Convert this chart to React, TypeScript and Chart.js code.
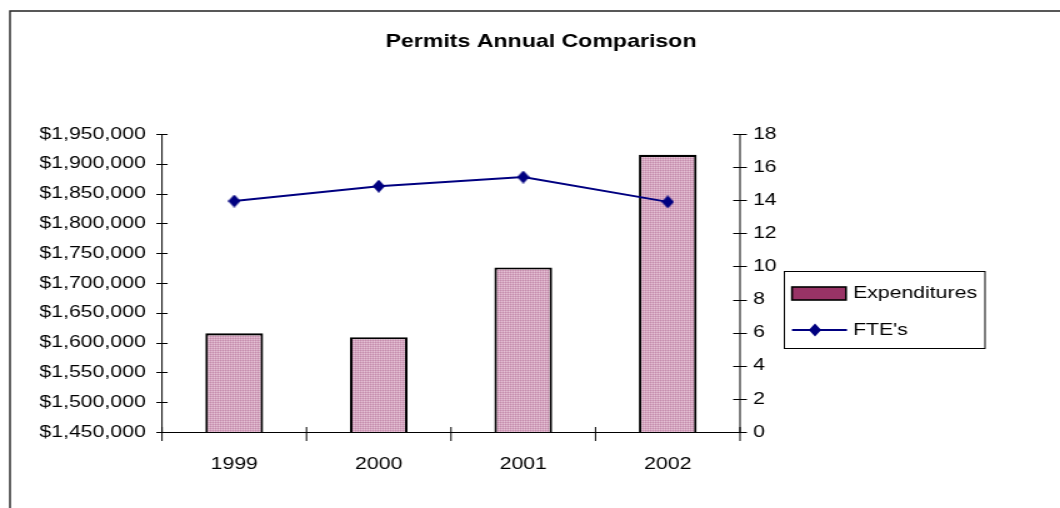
import React, { useEffect, useRef } from 'react';
import { Chart, registerables } from 'chart.js';

Chart.register(...registerables);

const categories = ['1999', '2000', '2001', '2002'];
const expenditures = [1615500, 1609000, 1726000, 1915000];
const ftes = [13.95, 14.85, 15.4, 13.9];
const leftMin = 1450000;
const leftMax = 1950000;
const leftStep = 50000;
const rightMin = 0;
const rightMax = 18;
const rightStep = 2;
const titleText = 'Permits Annual Comparison';
const seriesNames = ['Expenditures', "FTE's"];

const SX = 1.25;
const W = 848;
const H = 508;
const FONT = '"Liberation Sans", Arial, Helvetica, sans-serif';

export default function App() {
  const ref = useRef<HTMLCanvasElement>(null);

  useEffect(() => {
    const canvas = ref.current!;
    const tile = document.createElement('canvas');
    tile.width = 2;
    tile.height = 2;
    const tc = tile.getContext('2d')!;
    tc.fillStyle = '#D5A5C0';
    tc.fillRect(0, 0, 2, 2);
    tc.fillStyle = '#C48DAC';
    tc.fillRect(0, 0, 1, 1);
    tc.fillStyle = '#E4C2D4';
    tc.fillRect(1, 1, 1, 1);
    const pattern = tc.createPattern(tile, 'repeat')!;

    const dia = document.createElement('canvas');
    dia.width = 10;
    dia.height = 13;
    const dc = dia.getContext('2d')!;
    dc.fillStyle = '#000080';
    dc.beginPath();
    dc.moveTo(5, 0);
    dc.lineTo(10, 6.5);
    dc.lineTo(5, 13);
    dc.lineTo(0, 6.5);
    dc.closePath();
    dc.fill();

    const decor = {
      id: 'decor',
      afterDraw(chart: any) {
        const ctx = chart.ctx as CanvasRenderingContext2D;
        const { left, right, top, bottom } = chart.chartArea;
        const line = (x1: number, y1: number, x2: number, y2: number) => {
          ctx.beginPath();
          ctx.moveTo(x1, y1);
          ctx.lineTo(x2, y2);
          ctx.stroke();
        };
        ctx.save();
        ctx.strokeStyle = '#000';
        ctx.lineWidth = 1;
        line(left, top, left, bottom + 0.5);
        line(right, top, right, bottom + 0.5);
        line(left, bottom + 0.5, right, bottom + 0.5);
        const ys = chart.scales.y;
        ys.ticks.forEach((t: any) => {
          const py = Math.round(ys.getPixelForValue(t.value)) + 0.5;
          line(left - 4.5, py, left + 4.5, py);
        });
        const y1s = chart.scales.y1;
        y1s.ticks.forEach((t: any) => {
          const py = Math.round(y1s.getPixelForValue(t.value)) + 0.5;
          line(right - 5.5, py, right + 5.5, py);
        });
        const n = categories.length;
        for (let i = 0; i <= n; i++) {
          const px = left + (i * (right - left)) / n;
          line(px, bottom - 5, px, bottom + 9);
        }

        // frame
        ctx.strokeStyle = '#222';
        ctx.lineWidth = 1.4;
        ctx.beginPath();
        ctx.moveTo(8, H + 2);
        ctx.lineTo(8, 11);
        ctx.lineTo(W + 2, 11);
        ctx.stroke();

        // title
        ctx.fillStyle = '#000';
        ctx.font = `bold 18.5px ${FONT}`;
        ctx.textAlign = 'center';
        ctx.textBaseline = 'middle';
        ctx.fillText(titleText, 432.8, 42);

        // legend
        ctx.strokeStyle = '#000';
        ctx.lineWidth = 1;
        ctx.strokeRect(627.5, 271.5, 160.5, 77);
        ctx.fillStyle = '#993366';
        ctx.fillRect(633.6, 287, 43.2, 13);
        ctx.lineWidth = 1.6;
        ctx.strokeRect(633.6, 287, 43.2, 13);
        ctx.strokeStyle = '#000080';
        ctx.lineWidth = 2;
        line(633.6, 330, 677.6, 330);
        ctx.fillStyle = '#000080';
        ctx.beginPath();
        ctx.moveTo(652, 323.5);
        ctx.lineTo(657, 330);
        ctx.lineTo(652, 336.5);
        ctx.lineTo(647, 330);
        ctx.closePath();
        ctx.fill();
        ctx.fillStyle = '#000';
        ctx.font = `17px ${FONT}`;
        ctx.textAlign = 'left';
        ctx.textBaseline = 'middle';
        ctx.fillText(seriesNames[0], 682.4, 293.5);
        ctx.fillText(seriesNames[1], 682.4, 330.5);
        ctx.restore();
      },
    };

    const tickFont = { family: FONT, size: 17 };

    const chart = new Chart(canvas, {
      type: 'bar',
      data: {
        labels: categories,
        datasets: [
          {
            type: 'line',
            label: seriesNames[1],
            data: ftes,
            yAxisID: 'y1',
            borderColor: '#000080',
            backgroundColor: '#000080',
            borderWidth: 2,
            pointStyle: dia as any,
            pointRadius: 6,
            tension: 0,
            order: 0,
          } as any,
          {
            type: 'bar',
            label: seriesNames[0],
            data: expenditures,
            yAxisID: 'y',
            backgroundColor: pattern as any,
            borderColor: '#000',
            borderWidth: 2.1,
            borderSkipped: 'bottom',
            barPercentage: 0.4,
            categoryPercentage: 1,
            order: 1,
          } as any,
        ],
      },
      options: {
        responsive: false,
        animation: false,
        devicePixelRatio: window.devicePixelRatio || 1,
        layout: { padding: { top: 134, left: 0, right: 0, bottom: 0 } },
        plugins: {
          legend: { display: false },
          title: { display: false },
          tooltip: { enabled: false },
        },
        scales: {
          x: {
            type: 'category',
            offset: true,
            grid: { display: false, drawTicks: false },
            border: { display: false },
            ticks: { font: tickFont, color: '#000', padding: 22, maxRotation: 0 },
            afterFit: (s: any) => {
              s.height = 76;
            },
          },
          y: {
            type: 'linear',
            position: 'left',
            min: leftMin,
            max: leftMax,
            grid: { display: false, drawTicks: false },
            border: { display: false },
            ticks: {
              stepSize: leftStep,
              font: tickFont,
              color: '#000',
              padding: 13,
              callback: (v: any) => '$' + Number(v).toLocaleString('en-US'),
            },
            afterFit: (s: any) => {
              s.width = 129.6;
            },
          },
          y1: {
            type: 'linear',
            position: 'right',
            min: rightMin,
            max: rightMax,
            grid: { display: false, drawTicks: false },
            border: { display: false },
            ticks: { stepSize: rightStep, font: tickFont, color: '#000', padding: 10.4 },
            afterFit: (s: any) => {
              s.width = 256;
            },
          },
        },
      },
      plugins: [decor],
    });
    return () => chart.destroy();
  }, []);

  return (
    <div
      style={{
        position: 'fixed',
        left: 0,
        top: 0,
        width: 1060,
        height: 508,
        overflow: 'hidden',
        background: '#fff',
      }}
    >
      <canvas
        ref={ref}
        width={W}
        height={H}
        style={{
          width: W,
          height: H,
          display: 'block',
          transform: `scaleX(${SX})`,
          transformOrigin: '0 0',
        }}
      />
    </div>
  );
}
